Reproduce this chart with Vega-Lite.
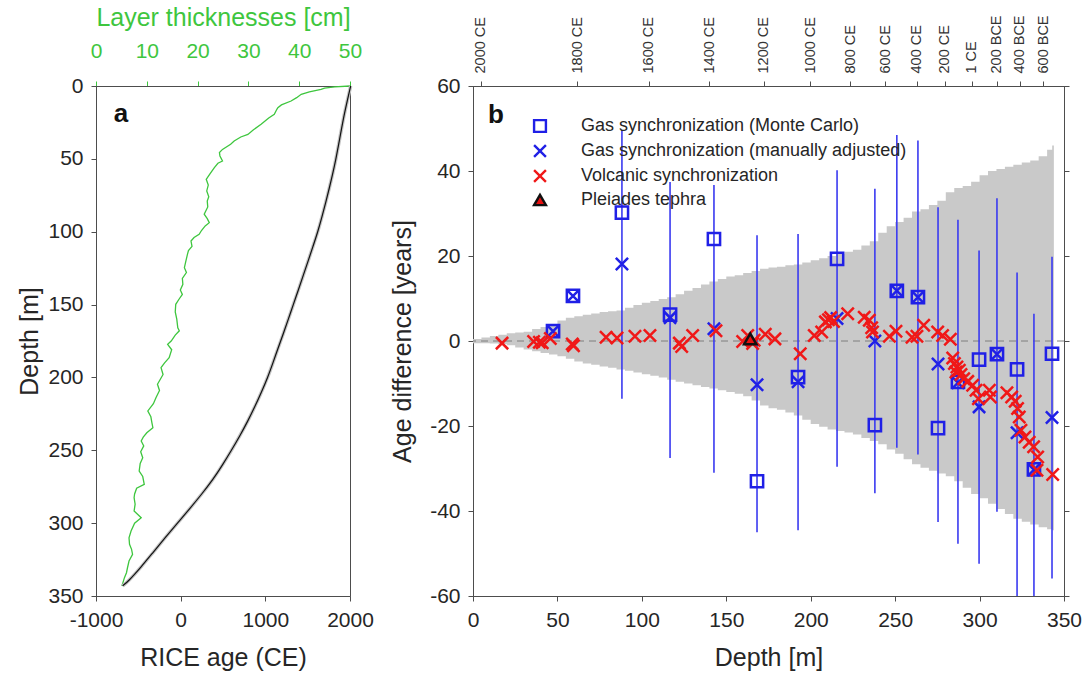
{
  "$schema": "https://vega.github.io/schema/vega-lite/v6.json",
  "padding": {"left": 17, "top": 4, "right": 5, "bottom": 5},
  "background": "white",
  "config": {
    "font": "Liberation Sans",
    "view": {"stroke": "#4d4d4d", "strokeWidth": 1},
    "axis": {
      "labelFontSize": 21, "titleFontSize": 25, "titleFontWeight": "normal",
      "labelColor": "#262626", "titleColor": "#262626",
      "domainColor": "#4d4d4d", "tickColor": "#4d4d4d", "grid": false,
      "tickSize": 5, "labelPadding": 8, "titlePadding": 5, "labelFlush": false, "labelOverlap": false
    },
    "concat": {"spacing": 16}
  },
  "datasets": {
    "thick": [
      {"depth": 0, "thickness": 50}, {"depth": 0.6, "thickness": 47}, {"depth": 1.5, "thickness": 45}, {"depth": 2.3, "thickness": 44.3},
      {"depth": 4, "thickness": 42}, {"depth": 5.7, "thickness": 40.4}, {"depth": 8, "thickness": 39.5}, {"depth": 10.3, "thickness": 38.4},
      {"depth": 13, "thickness": 36.5}, {"depth": 14.9, "thickness": 35.8}, {"depth": 16, "thickness": 35.6}, {"depth": 19.4, "thickness": 35.1},
      {"depth": 22, "thickness": 34}, {"depth": 26.3, "thickness": 32.5}, {"depth": 30, "thickness": 31}, {"depth": 33.2, "thickness": 29.9},
      {"depth": 35, "thickness": 28.5}, {"depth": 37.7, "thickness": 27.2}, {"depth": 40, "thickness": 26.5}, {"depth": 43.5, "thickness": 24.9},
      {"depth": 45.7, "thickness": 24.3}, {"depth": 48, "thickness": 24.4}, {"depth": 51.5, "thickness": 24.9}, {"depth": 53, "thickness": 24.0},
      {"depth": 56, "thickness": 23.3}, {"depth": 60, "thickness": 22.5}, {"depth": 64, "thickness": 21.7}, {"depth": 68, "thickness": 22.1},
      {"depth": 72, "thickness": 21.8}, {"depth": 76, "thickness": 22.2}, {"depth": 79, "thickness": 21.9}, {"depth": 83, "thickness": 22.0},
      {"depth": 88, "thickness": 21.3}, {"depth": 91, "thickness": 21.9}, {"depth": 93.8, "thickness": 22.3}, {"depth": 96, "thickness": 21.5},
      {"depth": 99, "thickness": 20.8}, {"depth": 101.8, "thickness": 20.3}, {"depth": 104, "thickness": 19.3}, {"depth": 106.4, "thickness": 18.7},
      {"depth": 110, "thickness": 18.9}, {"depth": 113, "thickness": 18.2}, {"depth": 115.5, "thickness": 18.0}, {"depth": 120, "thickness": 17.7},
      {"depth": 124.7, "thickness": 17.4}, {"depth": 128, "thickness": 17.8}, {"depth": 132, "thickness": 17.0}, {"depth": 136.1, "thickness": 17.1},
      {"depth": 140, "thickness": 16.6}, {"depth": 143, "thickness": 17.0}, {"depth": 146, "thickness": 16.4}, {"depth": 149.8, "thickness": 15.7},
      {"depth": 155, "thickness": 15.6}, {"depth": 160, "thickness": 15.9}, {"depth": 165.9, "thickness": 16.1}, {"depth": 168, "thickness": 16.4},
      {"depth": 171, "thickness": 15.6}, {"depth": 175, "thickness": 14.8}, {"depth": 177.3, "thickness": 14.1}, {"depth": 181, "thickness": 14.9},
      {"depth": 186.4, "thickness": 14.4}, {"depth": 190, "thickness": 13.5}, {"depth": 193.3, "thickness": 12.8}, {"depth": 198, "thickness": 13.2},
      {"depth": 204.7, "thickness": 12.1}, {"depth": 209, "thickness": 12.5}, {"depth": 213.9, "thickness": 11.8}, {"depth": 218, "thickness": 11.3},
      {"depth": 223, "thickness": 10.2}, {"depth": 227, "thickness": 10.8}, {"depth": 231, "thickness": 11.0}, {"depth": 234.5, "thickness": 11.2},
      {"depth": 238, "thickness": 10.0}, {"depth": 241, "thickness": 9.3}, {"depth": 243.6, "thickness": 8.9}, {"depth": 247, "thickness": 9.4},
      {"depth": 251, "thickness": 8.8}, {"depth": 255.1, "thickness": 9.2}, {"depth": 259, "thickness": 8.7}, {"depth": 264.2, "thickness": 8.5},
      {"depth": 268, "thickness": 9.2}, {"depth": 273.4, "thickness": 9.5}, {"depth": 276, "thickness": 8.0}, {"depth": 280, "thickness": 7.6},
      {"depth": 282.5, "thickness": 7.5}, {"depth": 287, "thickness": 7.7}, {"depth": 291.7, "thickness": 7.5}, {"depth": 296.3, "thickness": 8.9},
      {"depth": 300, "thickness": 7.6}, {"depth": 305.4, "thickness": 6.9}, {"depth": 310, "thickness": 6.5}, {"depth": 314.5, "thickness": 6.6},
      {"depth": 318, "thickness": 7.0}, {"depth": 321.4, "thickness": 7.2}, {"depth": 326, "thickness": 6.5}, {"depth": 330.6, "thickness": 6.2},
      {"depth": 334, "thickness": 6.0}, {"depth": 337.4, "thickness": 5.6}, {"depth": 343.1, "thickness": 5.1}
    ],
    "agedepth": [
      {"depth": 0, "age": 2008}, {"depth": 10, "age": 1968}, {"depth": 20, "age": 1930}, {"depth": 30, "age": 1898},
      {"depth": 40, "age": 1866}, {"depth": 50, "age": 1834}, {"depth": 60, "age": 1797}, {"depth": 70, "age": 1756},
      {"depth": 80, "age": 1713}, {"depth": 90, "age": 1668}, {"depth": 100, "age": 1620}, {"depth": 110, "age": 1563},
      {"depth": 120, "age": 1506}, {"depth": 130, "age": 1448}, {"depth": 140, "age": 1390}, {"depth": 150, "age": 1330},
      {"depth": 160, "age": 1272}, {"depth": 170, "age": 1212}, {"depth": 180, "age": 1150}, {"depth": 190, "age": 1090},
      {"depth": 200, "age": 1028}, {"depth": 210, "age": 955}, {"depth": 220, "age": 877}, {"depth": 230, "age": 793},
      {"depth": 240, "age": 700}, {"depth": 250, "age": 600}, {"depth": 260, "age": 495}, {"depth": 270, "age": 383},
      {"depth": 280, "age": 250}, {"depth": 290, "age": 108}, {"depth": 300, "age": -38}, {"depth": 310, "age": -183},
      {"depth": 320, "age": -325}, {"depth": 330, "age": -465}, {"depth": 340, "age": -620}, {"depth": 343, "age": -685}
    ],
    "band": [
      {"depth": 0, "lo": -0.5, "hi": 0.5}, {"depth": 5, "lo": -0.5, "hi": 0.8}, {"depth": 10, "lo": -0.6, "hi": 1.2}, {"depth": 15, "lo": -0.7, "hi": 1.5},
      {"depth": 20, "lo": -1.0, "hi": 1.8}, {"depth": 25, "lo": -1.5, "hi": 2.0}, {"depth": 30, "lo": -2.0, "hi": 2.2}, {"depth": 35, "lo": -2.4, "hi": 2.8},
      {"depth": 40, "lo": -2.8, "hi": 3.3}, {"depth": 45, "lo": -3.2, "hi": 4.0}, {"depth": 50, "lo": -3.6, "hi": 4.8}, {"depth": 55, "lo": -4.2, "hi": 5.5},
      {"depth": 60, "lo": -4.8, "hi": 5.8}, {"depth": 65, "lo": -5.3, "hi": 6.2}, {"depth": 70, "lo": -5.6, "hi": 6.5}, {"depth": 75, "lo": -6.0, "hi": 6.8},
      {"depth": 80, "lo": -6.3, "hi": 7.0}, {"depth": 85, "lo": -6.7, "hi": 7.2}, {"depth": 90, "lo": -7.0, "hi": 7.8}, {"depth": 95, "lo": -7.4, "hi": 8.5},
      {"depth": 100, "lo": -7.8, "hi": 9.0}, {"depth": 105, "lo": -8.2, "hi": 9.4}, {"depth": 110, "lo": -8.6, "hi": 9.9}, {"depth": 115, "lo": -9.1, "hi": 10.3},
      {"depth": 120, "lo": -9.6, "hi": 11.0}, {"depth": 125, "lo": -10.0, "hi": 11.8}, {"depth": 130, "lo": -10.4, "hi": 12.5}, {"depth": 135, "lo": -10.8, "hi": 13.3},
      {"depth": 140, "lo": -11.2, "hi": 14.0}, {"depth": 145, "lo": -11.6, "hi": 14.6}, {"depth": 150, "lo": -12.0, "hi": 15.2}, {"depth": 155, "lo": -12.4, "hi": 15.5},
      {"depth": 160, "lo": -13.0, "hi": 16.0}, {"depth": 165, "lo": -14.0, "hi": 16.5}, {"depth": 170, "lo": -15.2, "hi": 17.0}, {"depth": 175, "lo": -15.8, "hi": 17.3},
      {"depth": 180, "lo": -16.2, "hi": 17.5}, {"depth": 185, "lo": -16.8, "hi": 17.8}, {"depth": 190, "lo": -17.5, "hi": 18.0}, {"depth": 195, "lo": -18.5, "hi": 18.5},
      {"depth": 200, "lo": -19.5, "hi": 19.0}, {"depth": 205, "lo": -20.2, "hi": 19.5}, {"depth": 210, "lo": -20.8, "hi": 20.0}, {"depth": 215, "lo": -21.2, "hi": 20.5},
      {"depth": 220, "lo": -21.5, "hi": 21.0}, {"depth": 225, "lo": -22.0, "hi": 21.5}, {"depth": 230, "lo": -22.8, "hi": 22.5}, {"depth": 235, "lo": -23.5, "hi": 23.5},
      {"depth": 240, "lo": -24.3, "hi": 25.5}, {"depth": 245, "lo": -25.5, "hi": 27.0}, {"depth": 250, "lo": -26.5, "hi": 28.0}, {"depth": 255, "lo": -27.8, "hi": 29.0},
      {"depth": 260, "lo": -29.0, "hi": 30.5}, {"depth": 265, "lo": -29.8, "hi": 31.0}, {"depth": 270, "lo": -30.5, "hi": 32.0}, {"depth": 275, "lo": -31.2, "hi": 33.0},
      {"depth": 280, "lo": -31.8, "hi": 35.0}, {"depth": 285, "lo": -33.0, "hi": 36.0}, {"depth": 290, "lo": -34.5, "hi": 36.5}, {"depth": 295, "lo": -36.0, "hi": 37.5},
      {"depth": 300, "lo": -37.0, "hi": 39.0}, {"depth": 305, "lo": -38.3, "hi": 40.0}, {"depth": 310, "lo": -39.5, "hi": 40.5}, {"depth": 315, "lo": -40.7, "hi": 41.0},
      {"depth": 320, "lo": -41.8, "hi": 41.5}, {"depth": 325, "lo": -42.5, "hi": 42.0}, {"depth": 330, "lo": -43.2, "hi": 42.5}, {"depth": 335, "lo": -43.8, "hi": 43.5},
      {"depth": 340, "lo": -44.3, "hi": 45.0}, {"depth": 343, "lo": -44.5, "hi": 46.0}, {"depth": 344, "lo": -44.5, "hi": 46.0}
    ],
    "gasbars": [
      {"depth": 88.2, "lo": -13.6, "hi": 49.6}, {"depth": 116.7, "lo": -27.5, "hi": 37.4}, {"depth": 142.7, "lo": -31, "hi": 36.7},
      {"depth": 168.2, "lo": -45, "hi": 24.9}, {"depth": 192.5, "lo": -44.5, "hi": 25.2}, {"depth": 215.6, "lo": -29.6, "hi": 40.2},
      {"depth": 238, "lo": -35.8, "hi": 35.8}, {"depth": 251, "lo": -25.1, "hi": 48.5}, {"depth": 263.5, "lo": -26.7, "hi": 47.2},
      {"depth": 275.4, "lo": -42.6, "hi": 31.5}, {"depth": 287.2, "lo": -47.7, "hi": 28.5}, {"depth": 299.7, "lo": -52.4, "hi": 21.3},
      {"depth": 310.3, "lo": -40.2, "hi": 33.6}, {"depth": 322.2, "lo": -62, "hi": 16.1}, {"depth": 332.2, "lo": -62, "hi": 6.4},
      {"depth": 342.9, "lo": -55.9, "hi": 19.8}
    ],
    "pts": [
      {"series": "Gas synchronization (Monte Carlo)", "depth": 47.4, "value": 2.3},
      {"series": "Gas synchronization (Monte Carlo)", "depth": 59.2, "value": 10.6},
      {"series": "Gas synchronization (Monte Carlo)", "depth": 88.2, "value": 30.2},
      {"series": "Gas synchronization (Monte Carlo)", "depth": 116.7, "value": 6.2},
      {"series": "Gas synchronization (Monte Carlo)", "depth": 142.7, "value": 24.0},
      {"series": "Gas synchronization (Monte Carlo)", "depth": 168.2, "value": -33},
      {"series": "Gas synchronization (Monte Carlo)", "depth": 192.5, "value": -8.5},
      {"series": "Gas synchronization (Monte Carlo)", "depth": 215.6, "value": 19.3},
      {"series": "Gas synchronization (Monte Carlo)", "depth": 238, "value": -19.8},
      {"series": "Gas synchronization (Monte Carlo)", "depth": 251, "value": 11.8},
      {"series": "Gas synchronization (Monte Carlo)", "depth": 263.5, "value": 10.3},
      {"series": "Gas synchronization (Monte Carlo)", "depth": 275.4, "value": -20.5},
      {"series": "Gas synchronization (Monte Carlo)", "depth": 287.2, "value": -9.6},
      {"series": "Gas synchronization (Monte Carlo)", "depth": 299.7, "value": -4.4},
      {"series": "Gas synchronization (Monte Carlo)", "depth": 310.3, "value": -3.1},
      {"series": "Gas synchronization (Monte Carlo)", "depth": 322.2, "value": -6.7},
      {"series": "Gas synchronization (Monte Carlo)", "depth": 332.2, "value": -30.2},
      {"series": "Gas synchronization (Monte Carlo)", "depth": 342.9, "value": -3.0},
      {"series": "Gas synchronization (manually adjusted)", "depth": 47.4, "value": 2.3},
      {"series": "Gas synchronization (manually adjusted)", "depth": 59.2, "value": 10.6},
      {"series": "Gas synchronization (manually adjusted)", "depth": 88.2, "value": 18.1},
      {"series": "Gas synchronization (manually adjusted)", "depth": 116.7, "value": 5.5},
      {"series": "Gas synchronization (manually adjusted)", "depth": 142.7, "value": 2.9},
      {"series": "Gas synchronization (manually adjusted)", "depth": 168.2, "value": -10.3},
      {"series": "Gas synchronization (manually adjusted)", "depth": 192.5, "value": -9.6},
      {"series": "Gas synchronization (manually adjusted)", "depth": 215.6, "value": 5.3},
      {"series": "Gas synchronization (manually adjusted)", "depth": 238, "value": 0},
      {"series": "Gas synchronization (manually adjusted)", "depth": 251, "value": 11.8},
      {"series": "Gas synchronization (manually adjusted)", "depth": 263.5, "value": 10.3},
      {"series": "Gas synchronization (manually adjusted)", "depth": 275.4, "value": -5.4},
      {"series": "Gas synchronization (manually adjusted)", "depth": 287.2, "value": -9.8},
      {"series": "Gas synchronization (manually adjusted)", "depth": 299.7, "value": -15.5},
      {"series": "Gas synchronization (manually adjusted)", "depth": 310.3, "value": -3.1},
      {"series": "Gas synchronization (manually adjusted)", "depth": 322.2, "value": -21.6},
      {"series": "Gas synchronization (manually adjusted)", "depth": 332.2, "value": -30.3},
      {"series": "Gas synchronization (manually adjusted)", "depth": 342.9, "value": -18},
      {"series": "Volcanic synchronization", "depth": 17.2, "value": -0.5},
      {"series": "Volcanic synchronization", "depth": 35.9, "value": -0.1},
      {"series": "Volcanic synchronization", "depth": 39.3, "value": -0.3},
      {"series": "Volcanic synchronization", "depth": 41.0, "value": -0.4},
      {"series": "Volcanic synchronization", "depth": 45.8, "value": 0.6},
      {"series": "Volcanic synchronization", "depth": 58.8, "value": -0.7},
      {"series": "Volcanic synchronization", "depth": 59.5, "value": -1.1},
      {"series": "Volcanic synchronization", "depth": 78.8, "value": 0.9},
      {"series": "Volcanic synchronization", "depth": 85.3, "value": 0.7},
      {"series": "Volcanic synchronization", "depth": 95.9, "value": 1.1},
      {"series": "Volcanic synchronization", "depth": 104.8, "value": 1.3},
      {"series": "Volcanic synchronization", "depth": 122.2, "value": -0.5},
      {"series": "Volcanic synchronization", "depth": 123.6, "value": -1.3},
      {"series": "Volcanic synchronization", "depth": 130.1, "value": 1.3},
      {"series": "Volcanic synchronization", "depth": 143.9, "value": 2.4},
      {"series": "Volcanic synchronization", "depth": 159.7, "value": -0.1},
      {"series": "Volcanic synchronization", "depth": 162.7, "value": 1.3},
      {"series": "Volcanic synchronization", "depth": 165.6, "value": -0.6},
      {"series": "Volcanic synchronization", "depth": 166.5, "value": 0.2},
      {"series": "Volcanic synchronization", "depth": 173.1, "value": 1.6},
      {"series": "Volcanic synchronization", "depth": 178.8, "value": 0.5},
      {"series": "Volcanic synchronization", "depth": 193.8, "value": -3.0},
      {"series": "Volcanic synchronization", "depth": 202.1, "value": 1.3},
      {"series": "Volcanic synchronization", "depth": 206.5, "value": 2.1},
      {"series": "Volcanic synchronization", "depth": 208.7, "value": 4.5},
      {"series": "Volcanic synchronization", "depth": 210.5, "value": 5.0},
      {"series": "Volcanic synchronization", "depth": 211.8, "value": 5.5},
      {"series": "Volcanic synchronization", "depth": 213.5, "value": 4.6},
      {"series": "Volcanic synchronization", "depth": 221.9, "value": 6.4},
      {"series": "Volcanic synchronization", "depth": 231.7, "value": 5.6},
      {"series": "Volcanic synchronization", "depth": 234.7, "value": 4.9},
      {"series": "Volcanic synchronization", "depth": 236.1, "value": 3.1},
      {"series": "Volcanic synchronization", "depth": 236.6, "value": 2.1},
      {"series": "Volcanic synchronization", "depth": 246.6, "value": 1.1},
      {"series": "Volcanic synchronization", "depth": 250.5, "value": 2.3},
      {"series": "Volcanic synchronization", "depth": 260.0, "value": 0.9},
      {"series": "Volcanic synchronization", "depth": 262.9, "value": 1.1},
      {"series": "Volcanic synchronization", "depth": 266.9, "value": 3.7},
      {"series": "Volcanic synchronization", "depth": 275.2, "value": 2.1},
      {"series": "Volcanic synchronization", "depth": 278.1, "value": 1.3},
      {"series": "Volcanic synchronization", "depth": 282.7, "value": 0.4},
      {"series": "Volcanic synchronization", "depth": 284.1, "value": -4.0},
      {"series": "Volcanic synchronization", "depth": 285.1, "value": -5.3},
      {"series": "Volcanic synchronization", "depth": 286.0, "value": -7.3},
      {"series": "Volcanic synchronization", "depth": 286.6, "value": -6.1},
      {"series": "Volcanic synchronization", "depth": 288.0, "value": -6.9},
      {"series": "Volcanic synchronization", "depth": 289.0, "value": -7.9},
      {"series": "Volcanic synchronization", "depth": 290.6, "value": -8.9},
      {"series": "Volcanic synchronization", "depth": 293.0, "value": -9.5},
      {"series": "Volcanic synchronization", "depth": 295.9, "value": -10.4},
      {"series": "Volcanic synchronization", "depth": 297.9, "value": -11.6},
      {"series": "Volcanic synchronization", "depth": 299.3, "value": -13.6},
      {"series": "Volcanic synchronization", "depth": 305.8, "value": -11.6},
      {"series": "Volcanic synchronization", "depth": 306.4, "value": -13.2},
      {"series": "Volcanic synchronization", "depth": 316.2, "value": -12.2},
      {"series": "Volcanic synchronization", "depth": 319.0, "value": -13.2},
      {"series": "Volcanic synchronization", "depth": 321.1, "value": -14.2},
      {"series": "Volcanic synchronization", "depth": 322.5, "value": -15.9},
      {"series": "Volcanic synchronization", "depth": 323.5, "value": -17.9},
      {"series": "Volcanic synchronization", "depth": 324.5, "value": -21.0},
      {"series": "Volcanic synchronization", "depth": 326.9, "value": -22.6},
      {"series": "Volcanic synchronization", "depth": 329.4, "value": -23.8},
      {"series": "Volcanic synchronization", "depth": 332.0, "value": -24.9},
      {"series": "Volcanic synchronization", "depth": 334.4, "value": -27.3},
      {"series": "Volcanic synchronization", "depth": 334.0, "value": -30.4},
      {"series": "Volcanic synchronization", "depth": 343.3, "value": -31.4},
      {"series": "Pleiades tephra", "depth": 164.2, "value": 0.5}
    ]
  },
  "hconcat": [
    {
      "width": 254,
      "height": 510,
      "layer": [
        {
          "data": {"name": "thick"},
          "mark": {"type": "line", "color": "#3ec63e", "strokeWidth": 1.3},
          "encoding": {
            "x": {"field": "thickness", "type": "quantitative", "scale": {"domain": [0, 50], "nice": false},
                  "axis": {"orient": "top", "title": "Layer thicknesses [cm]", "values": [0, 10, 20, 30, 40, 50], "labelPadding": 20, "titlePadding": 10,
                           "labelColor": "#3ec63e", "titleColor": "#3ec63e", "tickColor": "#3ec63e"}},
            "y": {"field": "depth", "type": "quantitative", "scale": {"domain": [0, 350], "reverse": true, "nice": false},
                  "axis": {"title": "Depth [m]", "values": [0, 50, 100, 150, 200, 250, 300, 350]}},
            "order": {"field": "depth", "type": "quantitative"}
          }
        },
        {
          "layer": [
            {
              "data": {"name": "agedepth"},
              "mark": {"type": "line", "color": "#c4c4c4", "strokeWidth": 3.5, "interpolate": "basis"},
              "encoding": {
                "x": {"field": "age", "type": "quantitative", "scale": {"domain": [-1000, 2000], "nice": false},
                      "axis": {"title": "RICE age (CE)", "values": [-1000, 0, 1000, 2000], "labelExpr": "'' + datum.value", "titlePadding": 15}},
                "y": {"field": "depth", "type": "quantitative"},
                "order": {"field": "depth", "type": "quantitative"}
              }
            },
            {
              "data": {"name": "agedepth"},
              "mark": {"type": "line", "color": "#111111", "strokeWidth": 1.2, "interpolate": "basis"},
              "encoding": {
                "x": {"field": "age", "type": "quantitative"},
                "y": {"field": "depth", "type": "quantitative"},
                "order": {"field": "depth", "type": "quantitative"}
              }
            },
            {
              "data": {"values": [{}]},
              "mark": {"type": "text", "text": "a", "fontSize": 26, "fontWeight": "bold", "align": "center", "baseline": "middle", "color": "#111111"},
              "encoding": {
                "x": {"datum": -705, "type": "quantitative"},
                "y": {"datum": 19.5, "type": "quantitative"}
              }
            }
          ]
        }
      ],
      "resolve": {"scale": {"x": "independent"}}
    },
    {
      "width": 591,
      "height": 510,
      "layer": [
        {
          "data": {"name": "band"},
          "mark": {"type": "area", "interpolate": "step-after", "color": "#c9c9c9"},
          "encoding": {
            "x": {"field": "depth", "type": "quantitative", "scale": {"domain": [0, 350], "nice": false},
                  "axis": {"title": "Depth [m]", "values": [0, 50, 100, 150, 200, 250, 300, 350], "titlePadding": 15}},
            "y": {"field": "lo", "type": "quantitative", "scale": {"domain": [-60, 60], "nice": false},
                  "axis": {"title": "Age difference [years]", "values": [-60, -40, -20, 0, 20, 40, 60], "labelExpr": "'' + datum.value", "titlePadding": 14}},
            "y2": {"field": "hi"}
          }
        },
        {
          "data": {"values": [{}]},
          "mark": {"type": "rule", "color": "#7f7f7f", "strokeDash": [7, 5], "strokeWidth": 1},
          "encoding": {"y": {"datum": 0, "type": "quantitative", "axis": null}}
        },
        {
          "data": {"name": "gasbars"},
          "mark": {"type": "rule", "color": "#3a3af0", "strokeWidth": 1.6, "clip": true},
          "encoding": {
            "x": {"field": "depth", "type": "quantitative", "axis": null},
            "y": {"field": "lo", "type": "quantitative", "axis": null},
            "y2": {"field": "hi"}
          }
        },
        {
          "data": {"name": "pts"},
          "mark": {"type": "point", "opacity": 1, "strokeWidth": 2.5, "size": 150},
          "encoding": {
            "x": {"field": "depth", "type": "quantitative",
                  "axis": {"orient": "top", "title": null, "values": [4.7, 61.6, 104.2, 139.8, 172.3, 199.6, 223.3, 244.0, 262.9, 279.5, 295.5, 310.3, 323.9, 337.6],
                           "labelExpr": "['2000 CE','1800 CE','1600 CE','1400 CE','1200 CE','1000 CE','800 CE','600 CE','400 CE','200 CE','1 CE','200 BCE','400 BCE','600 BCE'][indexof([4.7, 61.6, 104.2, 139.8, 172.3, 199.6, 223.3, 244.0, 262.9, 279.5, 295.5, 310.3, 323.9, 337.6], datum.value)]",
                           "labelFontSize": 14.5, "labelAngle": 270, "labelAlign": "left", "labelBaseline": "middle", "labelPadding": 8, "labelColor": "#333333"}},
            "y": {"field": "value", "type": "quantitative",
                  "axis": {"orient": "right", "title": null, "labels": false, "values": [-60, -40, -20, 0, 20, 40, 60], "tickSize": 5}},
            "shape": {"field": "series", "type": "nominal",
                      "scale": {"domain": ["Gas synchronization (Monte Carlo)", "Gas synchronization (manually adjusted)", "Volcanic synchronization", "Pleiades tephra"],
                                "range": ["square", "M-1,-1L1,1M-1,1L1,-1", "M-1,-1L1,1M-1,1L1,-1", "triangle-up"]},
                      "legend": {"orient": "none", "legendX": 435, "legendY": 31, "title": null, "labelFontSize": 18, "labelColor": "#262626",
                                 "symbolStrokeWidth": 2.4, "symbolSize": 140, "rowPadding": 3, "labelOffset": 32, "labelLimit": 500}},
            "stroke": {"field": "series", "type": "nominal",
                       "scale": {"domain": ["Gas synchronization (Monte Carlo)", "Gas synchronization (manually adjusted)", "Volcanic synchronization", "Pleiades tephra"],
                                 "range": ["#2020e6", "#2020e6", "#f01818", "#111111"]}},
            "fill": {"field": "series", "type": "nominal",
                     "scale": {"domain": ["Gas synchronization (Monte Carlo)", "Gas synchronization (manually adjusted)", "Volcanic synchronization", "Pleiades tephra"],
                               "range": ["transparent", "transparent", "transparent", "#e81010"]}}
          }
        },
        {
          "data": {"values": [{}]},
          "mark": {"type": "text", "text": "b", "fontSize": 26, "fontWeight": "bold", "align": "center", "baseline": "middle", "color": "#111111"},
          "encoding": {
            "x": {"datum": 13.6, "type": "quantitative", "axis": null},
            "y": {"datum": 53.2, "type": "quantitative", "axis": null}
          }
        }
      ],
      "resolve": {"axis": {"x": "independent", "y": "independent"}}
    }
  ]
}
